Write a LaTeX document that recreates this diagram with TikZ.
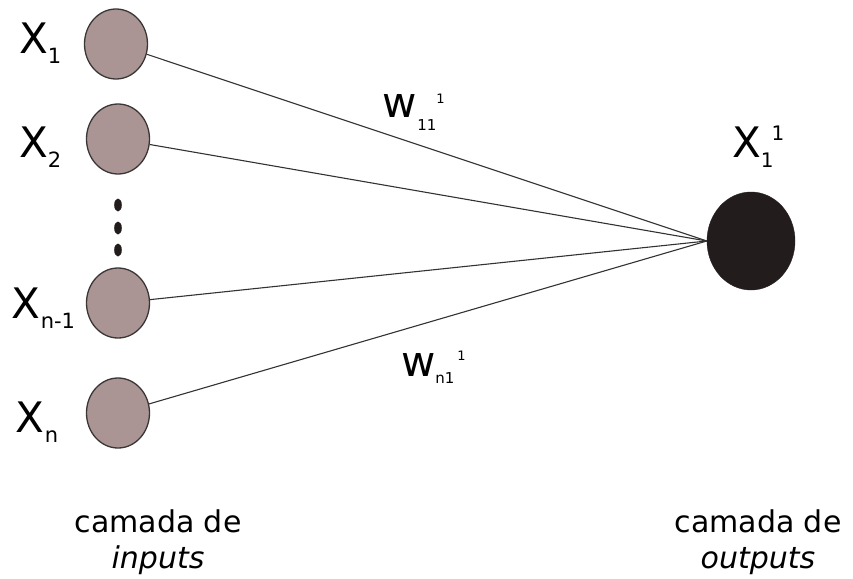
\documentclass[tikz,border=0pt]{standalone}
\usepackage{fontspec}
\setmainfont{DejaVu Sans}
\usetikzlibrary{shapes.geometric}
\definecolor{neuronin}{RGB}{170,148,148}
\definecolor{neuronedge}{RGB}{58,54,54}
\definecolor{neuronout}{RGB}{35,28,28}
\definecolor{wire}{RGB}{50,50,50}
\newcommand\fs[1]{\fontsize{#1}{#1}\selectfont}
\tikzset{
  innode/.style={ellipse, draw=neuronedge, line width=1.3pt, fill=neuronin,
    minimum width=63pt, minimum height=70pt, inner sep=0pt},
  outnode/.style={ellipse, fill=neuronout, draw=neuronout,
    minimum width=88pt, minimum height=98pt, inner sep=0pt},
  wireline/.style={draw=wire, line width=1.1pt},
  lbl/.style={anchor=base west, inner sep=0pt, outer sep=0pt, text=black},
  caption/.style={align=center, inner sep=0pt, font=\fs{30}, text=black},
}
\begin{document}
\begin{tikzpicture}[x=1pt, y=-1pt]
\useasboundingbox (0,0) rectangle (853,578);

% neurons
\node[innode] (i1) at (116,44) {};
\node[innode] (i2) at (118,139) {};
\node[innode] (i3) at (118,303) {};
\node[innode] (i4) at (118,413) {};
\node[outnode] (out) at (751,241) {};

% vertical ellipsis between the input neurons
\foreach \yy in {205,228,250}
  \fill[neuronout] (118,\yy) ellipse (3.8pt and 6.5pt);

% weighted connections
\foreach \n in {i1,i2,i3,i4}
  \draw[wireline] (\n) -- (out.west);

% input labels
\node[lbl] (l1) at (19,53) {\fs{42}X\raisebox{-10pt}{\fs{21}1}};
\node[lbl] (l2) at (19,157) {\fs{42}X\raisebox{-10pt}{\fs{21}2}};
\node[lbl] (l3) at (12,318) {\fs{42}X\raisebox{-10pt}{\fs{21}n-1}};
\node[lbl] (l4) at (16,432) {\fs{42}X\raisebox{-10pt}{\fs{21}n}};

% output label
\node[lbl] (lo) at (732,157) {\fs{42}X\raisebox{-10pt}{\fs{20}1}\kern-2pt\raisebox{17pt}{\fs{20}1}};

% weight labels
\node[lbl] (w1) at (382,117) {\fs{42}w\kern1pt\raisebox{-13pt}{\fs{15}11}\raisebox{14pt}{\fs{13}1}};
\node[lbl] (w2) at (401,376) {\fs{42}w\raisebox{-7pt}{\fs{15}n1}\kern3pt\raisebox{16pt}{\fs{13}1}};

% layer captions
\node[caption, anchor=base] (ci) at (158,568) {camada de\\[6pt]\textit{inputs}};
\node[caption, anchor=base] (co) at (758,568) {camada de\\[6pt]\textit{outputs}};
\end{tikzpicture}
\end{document}
